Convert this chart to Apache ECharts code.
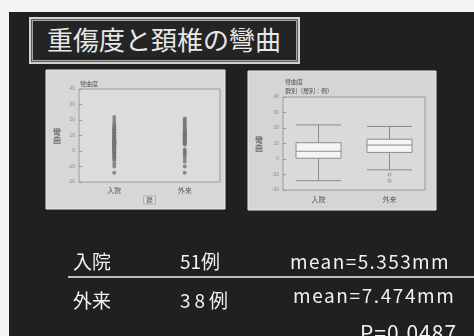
<!DOCTYPE html>
<html lang="ja">
<head>
<meta charset="utf-8">
<script src="https://cdn.jsdelivr.net/npm/echarts@6/dist/echarts.min.js"></script>
<style>
  html, body { margin: 0; padding: 0; }
  body { width: 474px; height: 336px; background: #f3f3f3; position: relative; overflow: hidden;
         font-family: "Noto Sans CJK JP", "Noto Sans", sans-serif; }
  #slide { position: absolute; left: 9px; top: 12px; width: 465px; height: 324px; background: #202020; }
  #titleBox { position: absolute; left: 29px; top: 17px; width: 267px; height: 43px;
              border: 2px solid #d2d2d2; box-shadow: inset 0 0 0 1px #5c5c5c, inset 0 0 0 2px #a8a8a8;
              background: #242424; }
  #title { position: absolute; left: 47px; top: 26px; font-size: 26px; line-height: 26px;
           color: #e8e8e8; white-space: nowrap; }
  #chart { position: absolute; left: 0; top: 0; width: 474px; height: 336px; filter: blur(0.5px); }
  .cell { position: absolute; color: #f0f0f0; white-space: nowrap; line-height: 1; }
  #rule { position: absolute; left: 68px; top: 276px; width: 406px; height: 2px; background: #bcbcbc; }
</style>
</head>
<body>
<div id="slide"></div>
<div id="titleBox"></div>
<div id="title">重傷度と頚椎の彎曲</div>
<div id="chart"></div>
<div id="rule"></div>
<div id="rows"></div>
<script>
// Cervical curvature (mm) per patient, by group
const groups = ['入院', '外来'];
const admitted = [-14, -10, -8, -6, -5, -4, -3, -3, -2, -1, -1, 0, 0, 1, 1, 2, 2, 3, 3, 3,
                  4, 4, 4, 5, 5, 5, 6, 6, 6, 7, 7, 7, 8, 8, 9, 9, 10, 10, 11, 11,
                  12, 12, 13, 14, 14, 15, 16, 17, 18, 20, 22];
const outpatient = [-14, -10, -7, -5, -3, -2, -1, 0, 1, 4, 5, 5, 6, 6, 7, 7, 8, 8, 9, 9,
                    9, 10, 10, 10, 11, 11, 12, 12, 13, 13, 14, 15, 16, 17, 18, 19, 20, 21];
const caseLabels = ['51例', '38例'];
const meanLabels = ['mean=5.353mm', 'mean=7.474mm'];
const pLabel = 'P=0.0487';
const yMin = -20, yMax = 40, yStep = 10;

// summary table under the panels
const rows = document.getElementById('rows');
const rowTop = [251, 290];
const meanTop = [251, 285];
groups.forEach((g, i) => {
  rows.insertAdjacentHTML('beforeend',
    `<div class="cell" style="left:73px;top:${rowTop[i]}px;font-size:19px">${g}</div>` +
    `<div class="cell" style="left:180px;top:${rowTop[i]}px;font-size:19px;letter-spacing:${i ? 4 : 0}px">${caseLabels[i]}</div>` +
    `<div class="cell" style="left:${i ? 293 : 290}px;top:${meanTop[i]}px;font-size:19px;letter-spacing:${i ? 1.6 : 1.4}px">${meanLabels[i]}</div>`);
});
rows.insertAdjacentHTML('beforeend',
  `<div class="cell" style="left:360px;top:322px;font-size:21px;letter-spacing:1px">${pLabel}</div>`);

// quartiles with linear interpolation
function quantile(sorted, p) {
  const pos = (sorted.length - 1) * p;
  const lo = Math.floor(pos), hi = Math.ceil(pos);
  return sorted[lo] + (sorted[hi] - sorted[lo]) * (pos - lo);
}
function boxStats(values) {
  const s = values.slice().sort((a, b) => a - b);
  const q1 = quantile(s, 0.25), med = quantile(s, 0.5), q3 = quantile(s, 0.75);
  const iqr = q3 - q1, lowF = q1 - 1.5 * iqr, highF = q3 + 1.5 * iqr;
  const inside = s.filter(v => v >= lowF && v <= highF);
  return {
    box: [inside[0], q1, med, q3, inside[inside.length - 1]],
    outliers: s.filter(v => v < lowF || v > highF)
  };
}
const seriesData = [admitted, outpatient];
const stats = seriesData.map(boxStats);

const inkDark = '#555';
const small = { fontSize: 7, color: inkDark, fontFamily: 'Noto Sans CJK JP' };

function axisPair(gridIndex) {
  return {
    x: {
      type: 'category', data: groups, gridIndex,
      axisLine: { show: false }, axisTick: { show: false },
      axisLabel: { ...small, margin: gridIndex ? 6 : 5 },
      name: gridIndex ? '' : '群', nameLocation: 'middle', nameGap: 14,
      nameTextStyle: { ...small, fontSize: 6, borderColor: '#999', borderWidth: 0.6, padding: [1, 3] }
    },
    y: {
      type: 'value', min: yMin, max: yMax, interval: yStep, gridIndex,
      axisLine: { show: false },
      axisTick: { show: true, inside: true, length: 3, lineStyle: { color: '#999' } },
      axisLabel: { fontSize: 5, color: '#8c8c8c', margin: 4 },
      splitLine: { show: false },
      name: '彎\n曲', nameLocation: 'middle', nameRotate: 0, nameGap: gridIndex ? 20 : 18,
      nameTextStyle: { ...small, fontSize: 8, lineHeight: 8, color: '#444' }
    }
  };
}
const a0 = axisPair(0), a1 = axisPair(1);

const chart = echarts.init(document.getElementById('chart'), null, { renderer: 'canvas' });
chart.setOption({
  animation: false,
  backgroundColor: 'transparent',
  graphic: [
    { type: 'rect', z: -10, shape: { x: 46, y: 70, width: 179, height: 139 },
      style: { fill: '#d7d7d7', stroke: '#ececec', lineWidth: 1 } },
    { type: 'rect', z: -10, shape: { x: 248, y: 71, width: 188, height: 139 },
      style: { fill: '#d5d5d5', stroke: '#ececec', lineWidth: 1 } },
    { type: 'text', left: 80, top: 81, style: { text: '彎曲度', ...small, fill: inkDark, fontSize: 6 } },
    { type: 'text', left: 285, top: 79, style: { text: '彎曲度', ...small, fill: inkDark, fontSize: 6 } },
    { type: 'text', left: 285, top: 88, style: { text: '群別（層別：例）', ...small, fill: inkDark, fontSize: 6 } }
  ],
  grid: [
    { left: 79, top: 89, width: 141, height: 93, show: true, backgroundColor: '#dcdcdc',
      borderColor: '#9a9a9a', borderWidth: 1 },
    { left: 283, top: 97, width: 142, height: 93, show: true, backgroundColor: '#dadada',
      borderColor: '#9a9a9a', borderWidth: 1 }
  ],
  xAxis: [a0.x, a1.x],
  yAxis: [a0.y, a1.y],
  series: [
    ...seriesData.map((vals, gi) => ({
      type: 'scatter', xAxisIndex: 0, yAxisIndex: 0,
      symbolSize: 4, itemStyle: { color: '#747474' },
      data: vals.map(v => [gi, v])
    })),
    {
      type: 'boxplot', xAxisIndex: 1, yAxisIndex: 1,
      boxWidth: [45, 45],
      itemStyle: { color: '#f5f5f5', borderColor: '#8c8c8c', borderWidth: 1 },
      data: stats.map(s => s.box)
    },
    {
      type: 'scatter', xAxisIndex: 1, yAxisIndex: 1,
      symbol: 'circle', symbolSize: 3,
      itemStyle: { color: 'transparent', borderColor: '#777', borderWidth: 0.8 },
      data: stats.flatMap((s, gi) => s.outliers.map(v => [gi, v]))
    }
  ]
});
</script>
</body>
</html>
